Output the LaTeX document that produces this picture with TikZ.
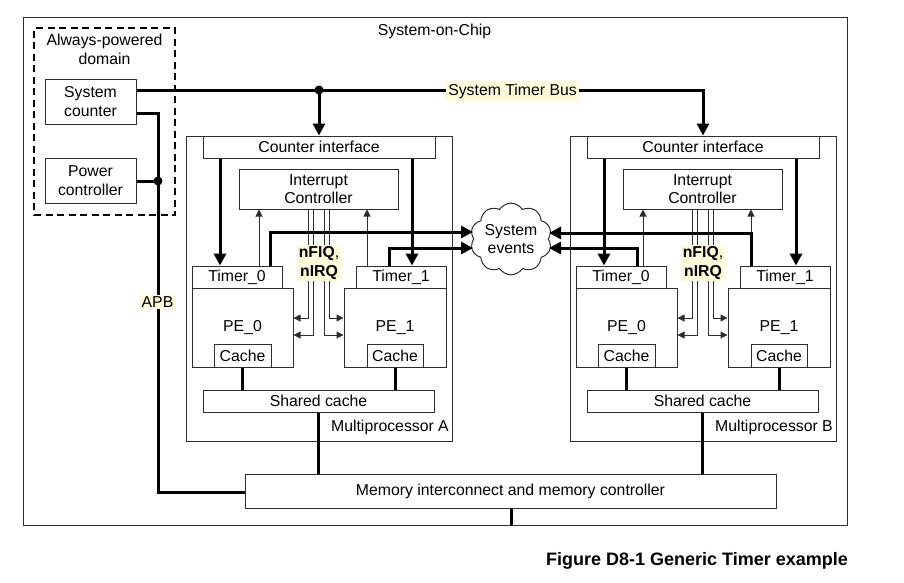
\documentclass[tikz,border=0pt]{standalone}
\usepackage{fontspec}
\setmainfont{Liberation Sans}
\usetikzlibrary{arrows.meta,shapes.symbols}
\definecolor{hl}{RGB}{255,250,218}
\definecolor{ln}{RGB}{45,45,45}
\tikzset{
 every node/.style={font=\fontsize{15.8}{18.5}\selectfont},
 box/.style={draw=ln,line width=1pt,inner sep=0pt,align=center},
 thk/.style={line width=3pt},
 bigarrow/.style={line width=3pt,-{Triangle[length=12pt,width=12pt]}},
 thinarrow/.style={draw=ln,line width=1pt,-{Triangle[length=7pt,width=7pt]}},
 hlabel/.style={fill=hl,inner sep=2pt,align=center},
 jdot/.style={circle,fill=black,inner sep=0pt,minimum size=9pt}
}
\newcommand\mproc[3]{%
\begin{scope}[xshift=#2pt]
\node[box,minimum width=266pt,minimum height=305pt] (mp#1) at (319,288.5) {};
\node[anchor=east,inner sep=0pt] (ml#1) at (449,427) {Multiprocessor #3};
\node[box,minimum width=232pt,minimum height=22pt] (ci#1) at (319,147) {Counter interface};
\node[box,minimum width=159pt,minimum height=40pt] (ic#1) at (318.5,189) {Interrupt\\Controller};
\node[box,minimum width=101pt,minimum height=79pt] (pz#1) at (242.5,327.5) {PE\_0};
\node[box,minimum width=102pt,minimum height=79pt] (po#1) at (395,327.5) {PE\_1};
\node[box,minimum width=90pt,minimum height=22pt] (tz#1) at (237,277) {Timer\_0};
\node[box,minimum width=90pt,minimum height=22pt] (to#1) at (401,277) {Timer\_1};
\node[box,minimum width=57pt,minimum height=23pt] (cz#1) at (242.5,355.5) {Cache};
\node[box,minimum width=56pt,minimum height=23pt] (co#1) at (395,355.5) {Cache};
\node[box,minimum width=231pt,minimum height=22pt] (sh#1) at (318.5,401) {Shared cache};
\coordinate (xa#1) at (220,0);
\coordinate (xb#1) at (412,0);
\coordinate (xc#1) at (259,0);
\coordinate (xd#1) at (367,0);
\draw[bigarrow] (ci#1.south -| xa#1) -- (tz#1.north -| xa#1);
\draw[bigarrow] (ci#1.south -| xb#1) -- (to#1.north -| xb#1);
\draw[thinarrow] (tz#1.north -| xc#1) -- (ic#1.south -| xc#1);
\draw[thinarrow] (to#1.north -| xd#1) -- (ic#1.south -| xd#1);
\draw[thk] (cz#1.south) -- (sh#1.north -| cz#1.south);
\draw[thk] (co#1.south) -- (sh#1.north -| co#1.south);
\draw[thk] (sh#1.south) -- (mem.north -| sh#1.south);
\coordinate (na#1) at (308,318);
\coordinate (nb#1) at (313,335);
\coordinate (nc#1) at (324,335);
\coordinate (nd#1) at (329,318);
\draw[thinarrow] (ic#1.south -| na#1) |- (pz#1.east |- na#1);
\draw[thinarrow] (ic#1.south -| nb#1) |- (pz#1.east |- nb#1);
\draw[thinarrow] (ic#1.south -| nc#1) |- (po#1.west |- nc#1);
\draw[thinarrow] (ic#1.south -| nd#1) |- (po#1.west |- nd#1);
\node[hlabel] (nf#1) at (319,263) {\bfseries nFIQ\mdseries,\\\bfseries nIRQ};
\end{scope}}
\begin{document}
\begin{tikzpicture}[x=1pt,y=-1pt]
\useasboundingbox (0,0) rectangle (904,582);
% frame
\node[draw=ln,line width=1pt,minimum width=824pt,minimum height=508pt,inner sep=0pt] (soc) at (435,271) {};
\node (socl) at (434.5,31) {System-on-Chip};
% always-powered domain
\node[draw=black,line width=2.2pt,dash pattern=on 7pt off 4.5pt,minimum width=141pt,minimum height=187pt,inner sep=0pt] (apd) at (104.5,121.5) {};
\node[align=center,inner sep=0pt] (apdl) at (104.5,49.5) {Always-powered\\domain};
\node[box,minimum width=91pt,minimum height=45pt] (syscnt) at (90.5,101.5) {System\\counter};
\node[box,minimum width=91pt,minimum height=45pt] (pwr) at (90.5,180.5) {Power\\controller};
% memory
\node[box,minimum width=531pt,minimum height=34pt] (mem) at (510.5,491) {Memory interconnect and memory controller};
\coordinate (socB) at (511,525);
\draw[thk] (mem.south -| socB) -- (soc.south -| socB);
% multiprocessors
\mproc{A}{0}{A}
\mproc{B}{384}{B}
% system timer bus
\coordinate (dot1) at (319,90);
\coordinate (busR) at (703,90);
\draw[bigarrow] (syscnt.east |- dot1) -- (busR) -- (ciB.north -| busR);
\draw[bigarrow] (dot1) -- (ciA.north -| dot1);
\node[jdot] (d1) at (dot1) {};
\node[fill=hl,inner sep=2.5pt] (busl) at (512.5,91) {System Timer Bus};
% APB
\coordinate (apbT) at (158,113);
\coordinate (dot2) at (158,181);
\coordinate (apbB) at (158,492);
\draw[thk] (syscnt.east |- apbT) -- (apbT) -- (apbB) -- (mem.west |- apbB);
\draw[thk] (pwr.east |- dot2) -- (dot2);
\node[jdot] (d2) at (dot2) {};
\node[fill=hl,inner sep=2pt] (apbl) at (157.5,302) {APB};
% system events
\node[cloud,draw=ln,line width=1pt,cloud puffs=10,cloud puff arc=115,aspect=1.2,minimum width=78pt,minimum height=66pt,inner sep=0pt,align=center,fill=white] (ev) at (511,239) {System\\events};
\coordinate (evL) at (473,0);
\coordinate (evR) at (549,0);
\coordinate (eA0) at (270,232);
\coordinate (eA1) at (389,248);
\coordinate (eB0) at (637,248);
\coordinate (eB1) at (751,233);
\draw[bigarrow] (tzA.north -| eA0) |- (evL |- eA0);
\draw[bigarrow] (toA.north -| eA1) |- (evL |- eA1);
\draw[bigarrow] (tzB.north -| eB0) |- (evR |- eB0);
\draw[bigarrow] (toB.north -| eB1) |- (evR |- eB1);
% caption
\node[anchor=east,inner sep=0pt,font=\fontsize{18}{20}\selectfont\bfseries] (cap) at (848,561) {Figure D8-1 Generic Timer example};
\end{tikzpicture}
\end{document}
